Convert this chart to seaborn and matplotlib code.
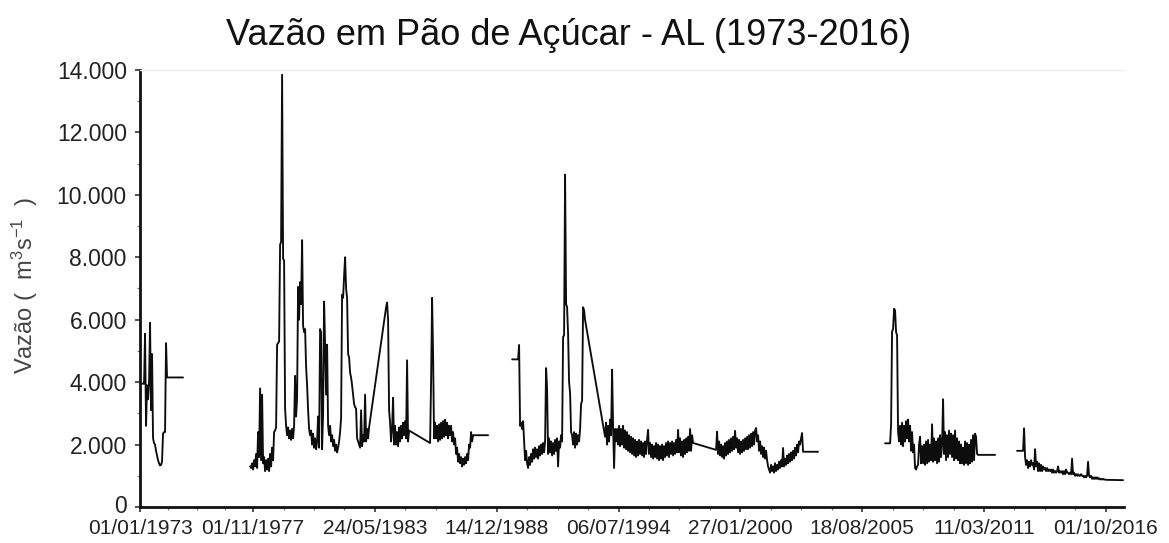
import numpy as np
import pandas as pd
import matplotlib
matplotlib.use("Agg")
import matplotlib.pyplot as plt
import matplotlib.transforms as mtransforms
import seaborn as sns
from matplotlib.ticker import FixedLocator, FuncFormatter

# ---------------- data ----------------
# Daily discharge series shown at a sampling of ~16.7 days; None = no sample
# (the original software joins the neighbouring samples with a straight line).
SAMPLE_DAYS = 16.67
SEGMENT_START_YEARS = [1972.67, 1977.693, 1989.651, 2006.675, 2012.700]

VAZAO_SEG1 = [3950, 3950, 3950, 3950, 3950, 5550, 2600, 3900, 3450, 4000,
              5900, 3100, 4900, 2200, 2050, 2000, 1800, 1650, 1500, 1400,
              1330, 1350, 1450, 2350, 2400, 2400, 5250, 4150,
              *[None] * 15, 4150]

VAZAO_SEG2 = [1300, 1250, 1400, 1200, 1500, 1300, 1700, 1250, 2400, 1600,
              3800, 1500, 3600, 1400, 1600, 1150, 1500, 1200, 1550, 1150,
              1700, 1300, 1900, 1500, 2400, 2450, 2550, 5200, 5250, 5300,
              8400, 8500, 13850, 7950, 7900, 3150, 2600, 2300, 2550, 2200,
              2450, 2150, 2500, 2200, 2600, 4200, 2900, 3500, 7050, 6000,
              7200, 6500, 8550, 5800, 5600, 5700, 4500, 3900, 3100, 2500,
              2300, 2450, 2000, 2350, 1900, 2200, 1850, 2100, 2900, 1900,
              5700, 5600, 1850, 3000, 6580, 5200, 3600, 5200, 2600, 2300,
              2600, 2100, 2300, 1950, 2150, 1800, 2000, 1750, 1900, 2100,
              2400, 2850, 6800, 6700, 7400, 8000, 7000, 6700, 4900, 4800,
              4300, 4150, 3900, 3600, 3300, 3200, 3150, 2200, 2100, 2000,
              1900, 3100, 1950, 2300, 2100, 3600, 2100, 2500, 2200, 2550,
              *[None] * 16,
              6400, 6550, 6000, 3100, 2700, 2100, 2500, 3500, 2000, 2600,
              2000, 2400, 1950, 2550, 2100, 2600, 2200, 2700, 2300, 2750,
              2200, 4700, 2100, 2450,
              *[None] * 20,
              2050, 4000, 6700, 4900, 2200, 2700, 2200, 2600, 2100, 2650,
              2150, 2700, 2200, 2750, 2250, 2800, 2300, 2700, 2200, 2600,
              2300, 2600, 2100, 2400, 2000, 2200, 1700, 1900, 1450, 1700,
              1400, 1600, 1300, 1550, 1350, 1600, 1400, 1700, 1500, 2000,
              1900, 2400, 2100, 2300,
              *[None] * 14, 2300]

VAZAO_SEG3 = [4730, *[None] * 5,
              4730, 5190, 2600, 2700, 2500, 2750, 2100, 1500, 1800, 1400,
              1250, 1600, 1350, 1700, 1450, 1850, 1550, 1900, 1600, 1850,
              1550, 1950, 1650, 2000, 1700, 2050, 1750, 2100, 4450, 3800,
              1700, 2200, 1750, 2100, 1650, 2050, 1700, 2150, 1800, 2200,
              1300, 2100, 1900, 2300, 2100, 5450, 5500, 10650, 6500, 6400,
              5550, 4000, 3650, 2400, 2300, 2000, 2400, 1900, 2350, 2000,
              2300, 2100, 2500, 3300, 3400, 6400, 6300, 5990,
              *[None] * 19,
              2250, 2700, 2000, 2600, 2100, 2800, 2300, 4400, 2600, 1250,
              2500, 2100, 2500, 2000, 2600, 1950, 2500, 2000, 2600, 1900,
              2450, 1850, 2400, 1800, 2300, 1750, 2250, 1700, 2200, 1650,
              2150, 1600, 2100, 1650, 2150, 1700, 2100, 1650, 2050, 1600,
              2100, 1700, 2150, 2470, 1700, 2050, 1600, 2000, 1550, 1950,
              1600, 2050, 1550, 2000, 1500, 1950, 1550, 2000, 1500, 1950,
              1600, 2050, 1650, 2100, 1600, 2050, 1700, 2100, 1650, 2050,
              1700, 2150, 1750, 2470, 1750, 2200, 1650, 2100, 1600, 2150,
              1700, 2200, 1750, 2250, 1800, 2500, 1800, 2300, 2050,
              *[None] * 22,
              1830, 2410, 1700, 2100, 1650, 2000, 1600, 1950, 1550, 2050,
              1650, 2100, 1700, 2150, 1750, 2200, 1800, 2250, 1850, 2440,
              1900, 2200, 1750, 2150, 1700, 2100, 1750, 2150, 1800, 2200,
              1850, 2250, 1850, 2300, 1900, 2350, 1950, 2400, 2000, 2450,
              2530, 2100, 2300, 1800, 2100, 1700, 1950, 1600, 1900, 1550,
              1800, 1500, 1300, 1200, 1100, 1350, 1150, 1300, 1100, 1400,
              1150, 1350, 1200, 1450, 1250, 1500, 1300, 1890, 1300, 1550,
              1350, 1650, 1400, 1700, 1450, 1750, 1500, 1800, 1550, 1900,
              1650, 2000, 1750, 2100, 2000, 2200, 2370, 1770,
              *[None] * 14, 1770]

VAZAO_SEG4 = [2040, 2040, 2040, 2040, 2040,
              2040, 2630, 5620, 5700, 6350, 6300, 5600, 5500, 2400, 2100,
              2600, 2000, 2700, 1950, 2600, 2100, 2750, 2200, 2800, 2100,
              2600, 1800, 2400, 1750, 2000, 1250, 1200, 1300, 1350, 2000,
              2250, 1400, 1950, 1400, 2000, 1350, 2100, 1400, 2150, 1450,
              2000, 1500, 2650, 1450, 2200, 1500, 2100, 1400, 2200, 1450,
              2300, 1600, 2000, 3450, 1700, 2400, 1500, 2300, 1600, 2450,
              1700, 2350, 1600, 2300, 1500, 2450, 1550, 2200, 1500, 2100,
              1400, 2000, 1400, 1900, 1350, 2100, 1400, 2050, 1350, 2000,
              1400, 2150, 1450, 2300, 1500, 2350, 2250, 1700, 1670,
              *[None] * 16, 1670]

VAZAO_SEG5 = [1800, *[None] * 5, 1800,
              2520, 1600, 1350, 1500, 1250, 1450, 1300, 1500, 1350, 1400,
              1200, 1850, 1300, 1450, 1150, 1400, 1150, 1350, 1150, 1300,
              1200, 1250, 1150, 1250, 1150, 1200, 1150, 1200, 1100, 1200,
              1100, 1150, 1100, 1150, 1300, 1100, 1150, 1100, 1150, 1050,
              1150, 1050, 1200, 1100, 1100, 1050, 1100, 1050, 1550, 1050,
              1100, 1000, 1050, 1000, 1050, 1000, 1000, 1050, 1000, 1000,
              950, 1000, 950, 1000, 1450, 1000, 950, 1000, 900, 950,
              900, 950, 900, 950, 900, 920, 880, 900, 880, 900,
              880, 880, 870, 870,
              *[None] * 15, 860]

X_TICK_POSITIONS = [1972.67, 1977.83, 1983.39, 1988.95, 1994.51,
                    2000.07, 2005.63, 2011.19, 2016.75]
X_TICK_LABELS = ["01/01/1973", "01/11/1977", "24/05/1983", "14/12/1988",
                 "06/07/1994", "27/01/2000", "18/08/2005", "11/03/2011",
                 "01/10/2016"]
Y_TICKS = [0, 2000, 4000, 6000, 8000, 10000, 12000, 14000]
X_LIMITS = (1972.67, 2017.58)

TITLE = "Vazão em Pão de Açúcar - AL (1973-2016)"
Y_LABEL = r"Vazão (  m$^{3}$s$^{-1}$  )"

# ---------------- build table ----------------
frames = []
for k, (start, vals) in enumerate(zip(SEGMENT_START_YEARS,
                                      [VAZAO_SEG1, VAZAO_SEG2, VAZAO_SEG3,
                                       VAZAO_SEG4, VAZAO_SEG5])):
    v = np.array(vals, dtype=float)
    years = start + np.arange(len(v)) * SAMPLE_DAYS / 365.25
    frames.append(pd.DataFrame({"ano": years, "vazao": v, "segmento": k}))
df = pd.concat(frames, ignore_index=True).dropna()

# ---------------- style ----------------
sns.set_style("white")
plt.rcParams["font.family"] = ["Liberation Sans", "DejaVu Sans"]
plt.rcParams["mathtext.fontset"] = "custom"
plt.rcParams["mathtext.rm"] = "Liberation Sans"
plt.rcParams["mathtext.it"] = "Liberation Sans"

fig = plt.figure(figsize=(11.69, 5.43), dpi=100)
ax = fig.add_axes([0.1198, 0.0663, 0.8417, 0.8048])

sns.lineplot(data=df, x="ano", y="vazao", units="segmento", estimator=None,
             sort=False, color="#0d0d0d", linewidth=1.35, ax=ax)

ax.set_xlim(*X_LIMITS)
ax.set_ylim(0, 14000)
ax.set_xlabel("")
ax.set_ylabel("")

# spines
ax.spines["right"].set_visible(False)
ax.spines["top"].set_color("#ececec")
ax.spines["top"].set_linewidth(1.0)
for s in ("left", "bottom"):
    ax.spines[s].set_color("#111111")
    ax.spines[s].set_linewidth(2.0)

# ticks
ax.xaxis.set_major_locator(FixedLocator(X_TICK_POSITIONS))
ax.set_xticklabels(X_TICK_LABELS)
minor_x = []
for a, b in zip(X_TICK_POSITIONS[:-1], X_TICK_POSITIONS[1:]):
    minor_x += [a + (b - a) * q / 4 for q in (1, 2, 3)]
ax.xaxis.set_minor_locator(FixedLocator(minor_x))

ax.yaxis.set_major_locator(FixedLocator(Y_TICKS))
ax.yaxis.set_minor_locator(FixedLocator([t + 1000 for t in Y_TICKS[:-1]]))
ax.yaxis.set_major_formatter(FuncFormatter(lambda v, p: f"{int(round(v)):,}".replace(",", ".")))

ax.tick_params(axis="both", which="major", direction="out", length=3.5,
               width=1.2, color="#333333", labelcolor="#222222")
ax.tick_params(axis="both", which="minor", direction="out", length=2.2,
               width=0.9, color="#777777")
ax.tick_params(axis="x", which="major", labelsize=15, pad=5)
ax.tick_params(axis="y", which="major", labelsize=16.5, pad=6)
ax.tick_params(left=True, bottom=True, which="both")

# nudge the "0" label slightly up so it does not touch the first date label
zero_lbl = ax.yaxis.get_majorticklabels()[0]
zero_lbl.set_transform(zero_lbl.get_transform() +
                       mtransforms.ScaledTranslation(0, 3 / 100, fig.dpi_scale_trans))

fig.text(0.486, 0.935, TITLE, ha="center", va="center", fontsize=26,
         color="#111111")
fig.text(0.0214, 0.475, Y_LABEL, ha="center", va="center", rotation=90,
         fontsize=17, color="#444444")

fig.savefig("out.png", dpi=100)
